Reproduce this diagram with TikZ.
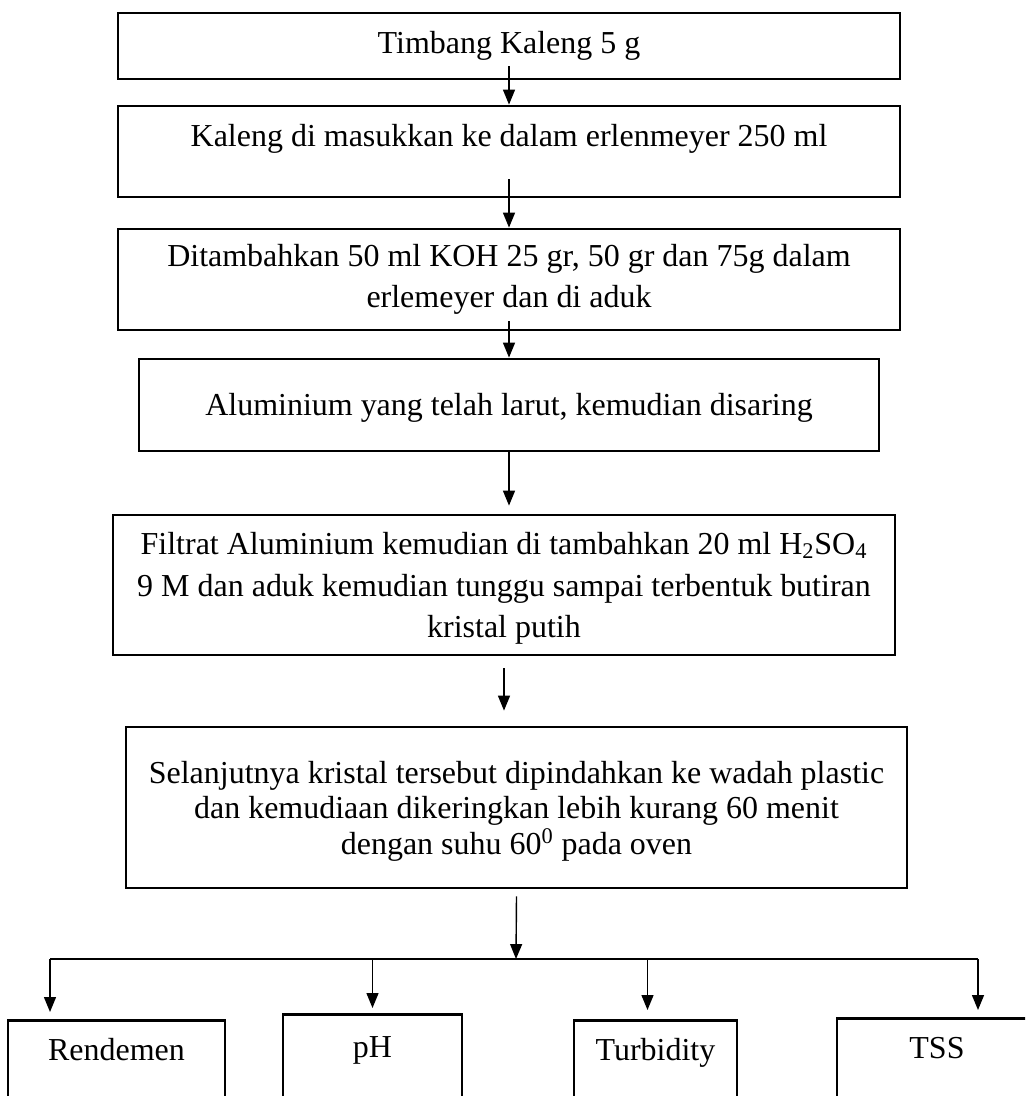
\documentclass[tikz,border=0pt]{standalone}
\usepackage{fontspec}
\setmainfont{Liberation Serif}
\usetikzlibrary{arrows.meta,positioning,calc}

\begin{document}
\begin{tikzpicture}[
    x=0.02cm,y=-0.02cm,
    proc/.style  = {draw, line width=1.6pt, align=center, inner sep=0pt,
                    font=\fontsize{18.2}{23.5}\selectfont},
    hasil/.style = {draw, line width=1.6pt, anchor=north, inner sep=0pt,
                    text height=0.8cm, text depth=2cm,
                    font=\fontsize{18.2}{23.5}\selectfont},
    panah/.style = {-{Triangle[length=8.5pt,width=6.8pt]}, line width=0.8pt},
    garis/.style = {line width=0.8pt},
  ]

  \useasboundingbox (0,0) rectangle (1025,1096);
  \clip (0,0) rectangle (1025,1096);

  % Tahap proses, dari atas ke bawah
  \node[proc, minimum width=15.64cm, minimum height=1.32cm] (timbang) at (509,46)
       {Timbang Kaleng 5 g};
  \node[proc, minimum width=15.64cm, minimum height=1.82cm,
        text height=12.5pt, text depth=18.7pt] (masuk) at (509,151.5)
       {Kaleng di masukkan ke dalam erlenmeyer 250 ml};
  \node[proc, minimum width=15.64cm, minimum height=2.02cm] (tambah) at (509,279.5)
       {Ditambahkan 50 ml KOH 25 gr, 50 gr dan 75g dalam\\erlemeyer dan di aduk};
  \node[proc, minimum width=14.8cm, minimum height=1.84cm] (saring) at (509,405)
       {\rule{0pt}{15.9pt}Aluminium yang telah larut, kemudian disaring};
  \node[proc, minimum width=15.64cm, minimum height=2.8cm,
        font=\fontsize{18.2}{23.8}\selectfont] (filtrat) at (504,585)
       {\rule{0pt}{16.4pt}Filtrat Aluminium kemudian di tambahkan 20 ml H\textsubscript{2}SO\textsubscript{4}\\
        9 M dan aduk kemudian tunggu sampai terbentuk butiran\\kristal putih};
  \node[proc, minimum width=15.62cm, minimum height=3.22cm,
        font=\fontsize{18.2}{20.4}\selectfont] (kering) at (516.5,807.5)
       {\rule{0pt}{17pt}Selanjutnya kristal tersebut dipindahkan ke wadah plastic\\
        dan kemudiaan dikeringkan lebih kurang 60 menit\\
        dengan suhu 60\textsuperscript{0} pada oven};

  % Parameter uji
  \node[hasil, minimum width=4.34cm] (rend) at (116.5,1019) {Rendemen};
  \node[hasil, minimum width=3.58cm, text height=0.86cm] (ph) at (372.5,1013) {pH};
  \node[hasil, minimum width=3.26cm] (turb) at (655.5,1019) {Turbidity};
  \node[hasil, minimum width=4.0cm] (tss) at (937,1017) {TSS};

  \draw[panah] ($(timbang.south)+(0,-14)$) -- (masuk.north);
  \draw[panah] ($(masuk.south)+(0,-19)$) -- (tambah.north);
  \draw[panah] ($(tambah.south)+(0,-10)$) -- (saring.north);
  \draw[panah] (saring.south) -- ($(saring.south |- filtrat.north)+(0,-8)$);
  \draw[panah] ($(filtrat.south)+(0,12)$) -- ($(filtrat.south |- kering.north)+(0,-15)$);

  % Percabangan ke empat parameter
  \coordinate (cabang) at (516,959);
  \coordinate (kiri)   at (50,959);
  \coordinate (kanan)  at (978,959);
  \draw[panah] ($(kering.south)+(0,7)$) -- (cabang);
  \draw[garis] (kiri) -- (kanan);

  \draw[panah] (kiri) -- ($(kiri |- rend.north)+(0,-7)$);
  \draw[panah] (ph.north |- cabang) -- ($(ph.north)+(0,-5)$);
  \draw[panah] ($(turb.north |- cabang)+(-8,0)$) -- ($(turb.north)+(-8,-9)$);
  \draw[panah] (kanan) -- ($(kanan |- tss.north)+(0,-7)$);

\end{tikzpicture}
\end{document}
